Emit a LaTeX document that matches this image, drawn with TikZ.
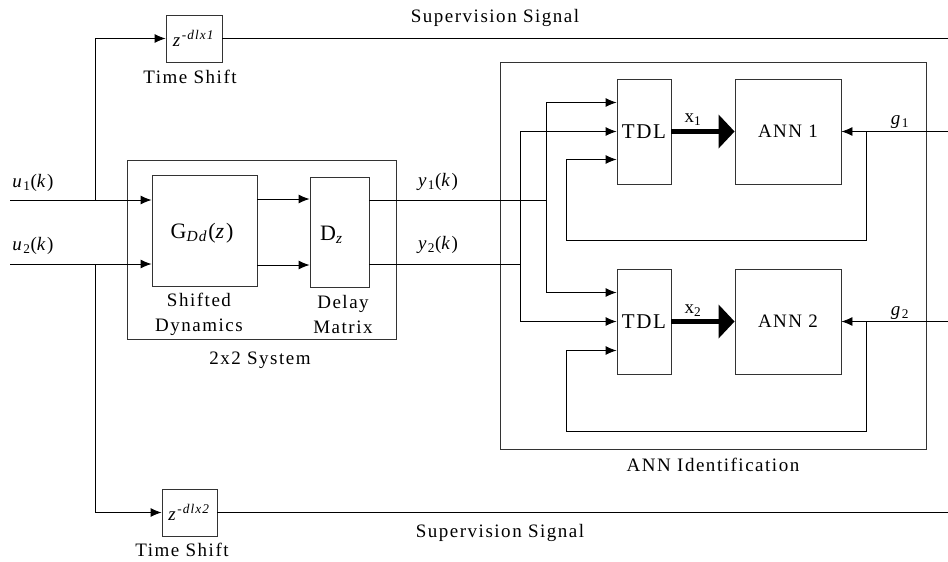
\documentclass[tikz,border=0pt]{standalone}
\usepackage{fontspec}
\setmainfont{Liberation Serif}[LetterSpace=8]
\usetikzlibrary{arrows.meta}
\begin{document}
\begin{tikzpicture}[x=1pt,y=-1pt,
  every node/.style={font=\fontsize{19}{25}\selectfont, inner sep=0pt},
  blk/.style={draw=black!80, line width=0.9pt, fill=none},
  lbl/.style={anchor=center, align=center},
  big/.style={font=\fontsize{22}{26}\selectfont},
  conn/.style={draw=black, line width=0.9pt},
  arr/.style={conn, -{Latex[length=11pt,width=9pt]}},
  fatarr/.style={draw=black, line width=4.5pt, -{Stealth[length=16pt,width=34pt,inset=0pt,line width=0pt]}}]
\useasboundingbox (0,0) rectangle (948,562);

% blocks
\node[blk, minimum width=56pt, minimum height=47pt] (ts1) at (194,38.5) {\textit{z}\textsuperscript{\textit{-dlx1}}};
\node[blk, minimum width=55pt, minimum height=47pt] (ts2) at (189.5,512.5) {\textit{z}\textsuperscript{\textit{-dlx2}}};
\node[blk, minimum width=269pt, minimum height=179pt] (sys) at (261.5,249.5) {};
\node[blk, minimum width=105pt, minimum height=111pt] (G) at (204.5,230.5) {};
\node[blk, minimum width=59pt, minimum height=110pt] (D) at (339.5,232) {};
\node[blk, minimum width=426pt, minimum height=387pt] (annid) at (713,255.5) {};
\node[blk, minimum width=54pt, minimum height=105pt, font=\fontsize{21}{25}\selectfont] (tdl1) at (644,131.5) {TDL};
\node[blk, minimum width=54pt, minimum height=105pt, font=\fontsize{21}{25}\selectfont] (tdl2) at (644,321.5) {TDL};
\node[blk, minimum width=106pt, minimum height=105pt] (ann1) at (788,131.5) {ANN 1};
\node[blk, minimum width=106pt, minimum height=105pt] (ann2) at (788,321.5) {ANN 2};

% labels
\node[lbl, big] (gl) at (202,233) {G\textsubscript{\textit{Dd}}(\textit{z})};
\node[lbl, big] (dl) at (332,235) {D\textsubscript{\textit{z}}};
\node[lbl] (sup1) at (495,18) {Supervision Signal};
\node[lbl] (sup2) at (500,533) {Supervision Signal};
\node[lbl] (tsl1) at (190,77) {Time Shift};
\node[lbl] (tsl2) at (182,550) {Time Shift};
\node[lbl] (shd) at (199,314.5) {Shifted\\Dynamics};
\node[lbl] (dm) at (343,314.5) {Delay\\Matrix};
\node[lbl] (sysl) at (260,360) {2x2 System};
\node[lbl] (annl) at (713,465) {ANN Identification};
\node[lbl] (u1l) at (33,183) {\textit{u}\textsubscript{1}(\textit{k})};
\node[lbl] (u2l) at (33,246) {\textit{u}\textsubscript{2}(\textit{k})};
\node[lbl] (y1l) at (438,182) {\textit{y}\textsubscript{1}(\textit{k})};
\node[lbl] (y2l) at (438,245) {\textit{y}\textsubscript{2}(\textit{k})};
\node[lbl] (x1l) at (693,120) {x\textsubscript{1}};
\node[lbl] (x2l) at (693,311) {x\textsubscript{2}};
\node[lbl] (g1l) at (900,122) {\textit{g}\textsubscript{1}};
\node[lbl] (g2l) at (900,313) {\textit{g}\textsubscript{2}};

% coordinates
\coordinate (u1s) at (10,200);
\coordinate (u2s) at (10,264);
\coordinate (b1) at (95,200);
\coordinate (b2) at (95,264);
\coordinate (y1j) at (546,200);
\coordinate (y2j) at (520,264);
\coordinate (g1s) at (948,131.5);
\coordinate (g2s) at (948,321.5);
\coordinate (f1) at (866,131.5);
\coordinate (f2) at (866,321.5);
\coordinate (f1a) at (566,240);
\coordinate (f2a) at (566,431);
\coordinate (s1e) at (948,38.5);
\coordinate (s2e) at (948,512.5);

% inputs
\draw[arr] (u1s) -- (u1s -| G.west);
\draw[arr] (u2s) -- (u2s -| G.west);
\draw[arr] (b1) |- (ts1.west);
\draw[arr] (b2) |- (ts2.west);
\draw[conn] (ts1.east) -- (s1e);
\draw[conn] (ts2.east) -- (s2e);

% G -> D
\draw[arr] (G.east |- 0,199) -- (D.west |- 0,199);
\draw[arr] (G.east |- 0,265) -- (D.west |- 0,265);

% outputs
\draw[conn] (D.east |- y1j) -- (y1j);
\draw[conn] (D.east |- y2j) -- (y2j);
\draw[arr] (y1j) |- ([yshift=29pt]tdl1.west);
\draw[arr] (y1j) |- ([yshift=29pt]tdl2.west);
\draw[arr] (y2j) |- (tdl1.west);
\draw[arr] (y2j) |- (tdl2.west);

% TDL -> ANN
\draw[fatarr] (tdl1.east) -- (ann1.west);
\draw[fatarr] (tdl2.east) -- (ann2.west);

% g inputs and feedback
\draw[arr] (g1s) -- (ann1.east);
\draw[arr] (g2s) -- (ann2.east);
\draw[arr] (f1) |- (f1a) |- ([yshift=-28pt]tdl1.west);
\draw[arr] (f2) |- (f2a) |- ([yshift=-29pt]tdl2.west);
\end{tikzpicture}
\end{document}
